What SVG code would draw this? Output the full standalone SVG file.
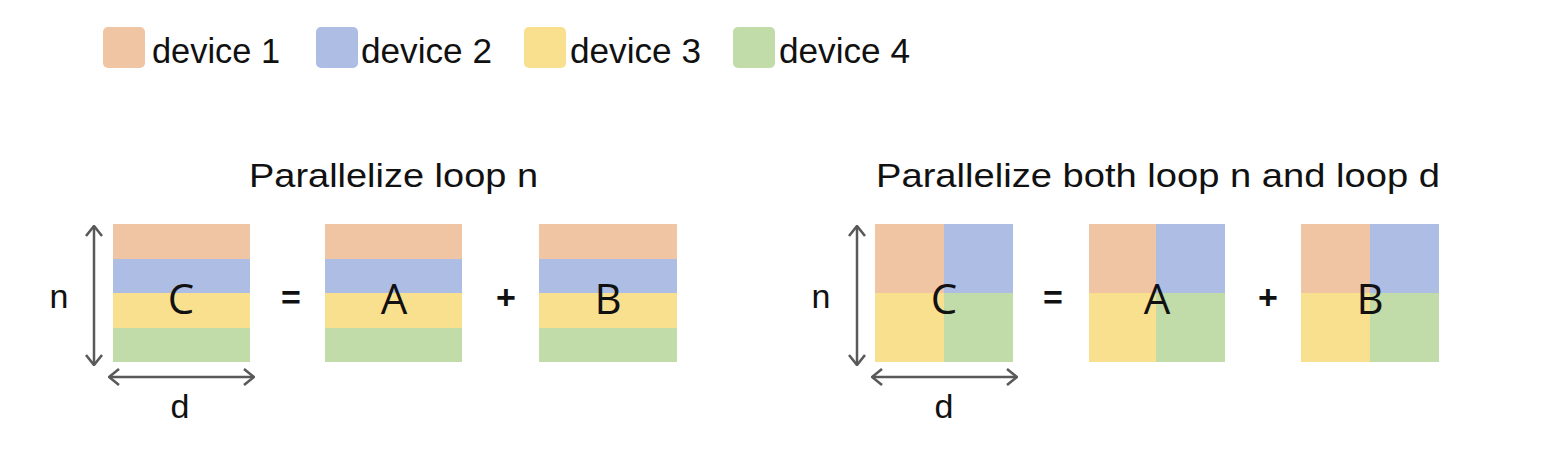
<svg xmlns="http://www.w3.org/2000/svg" width="1562" height="466" viewBox="0 0 1562 466">
<defs>
<style>
.c1{fill:#F0C5A3}.c2{fill:#ADBDE4}.c3{fill:#F9E08E}.c4{fill:#C1DCA9}
.lg{font-family:"Liberation Sans",Arial,sans-serif;font-size:35px;fill:#111}
.tt{font-family:"Liberation Sans",Arial,sans-serif;font-size:33px;fill:#111}
.ax{font-family:"Liberation Sans",Arial,sans-serif;font-size:34px;fill:#111;text-anchor:middle}
.mx{font-family:"Open Sans","Noto Sans",sans-serif;font-size:42px;fill:#111;text-anchor:middle}
.op{font-family:"Liberation Sans",Arial,sans-serif;font-size:34px;font-weight:bold;fill:#111;text-anchor:middle}
.ar{stroke:#595959;stroke-width:2.5;fill:none}
</style>
<marker id="ah" viewBox="0 0 12 18" refX="11" refY="9" markerWidth="12" markerHeight="18" markerUnits="userSpaceOnUse" orient="auto-start-reverse">
<path d="M1,1 L11,9 L1,17" fill="none" stroke="#595959" stroke-width="2.6"/>
</marker>
</defs>
<rect width="1562" height="466" fill="#fff"/>
<g id="legend">
<rect class="c1" x="103" y="27" width="42" height="41" rx="5"/>
<text class="lg" x="152" y="63" textLength="128" lengthAdjust="spacingAndGlyphs">device 1</text>
<rect class="c2" x="316" y="27" width="42" height="41" rx="5"/>
<text class="lg" x="361" y="63" textLength="131" lengthAdjust="spacingAndGlyphs">device 2</text>
<rect class="c3" x="524" y="27" width="42" height="41" rx="5"/>
<text class="lg" x="570" y="63" textLength="131" lengthAdjust="spacingAndGlyphs">device 3</text>
<rect class="c4" x="733" y="27" width="42" height="41" rx="5"/>
<text class="lg" x="779" y="63" textLength="131" lengthAdjust="spacingAndGlyphs">device 4</text>
</g>
<text class="tt" x="249" y="187" textLength="289" lengthAdjust="spacingAndGlyphs">Parallelize loop n</text>
<text class="tt" x="876" y="187" textLength="564" lengthAdjust="spacingAndGlyphs">Parallelize both loop n and loop d</text>
<g id="left-C">
<rect class="c1" x="113" y="224" width="137" height="35"/>
<rect class="c2" x="113" y="259" width="137" height="34"/>
<rect class="c3" x="113" y="293" width="137" height="35"/>
<rect class="c4" x="113" y="328" width="137" height="34"/>
<text class="mx" x="181" y="314">C</text>
</g>
<g id="left-A">
<rect class="c1" x="325" y="224" width="137" height="35"/>
<rect class="c2" x="325" y="259" width="137" height="34"/>
<rect class="c3" x="325" y="293" width="137" height="35"/>
<rect class="c4" x="325" y="328" width="137" height="34"/>
<text class="mx" x="394" y="314">A</text>
</g>
<g id="left-B">
<rect class="c1" x="539" y="224" width="138" height="35"/>
<rect class="c2" x="539" y="259" width="138" height="34"/>
<rect class="c3" x="539" y="293" width="138" height="35"/>
<rect class="c4" x="539" y="328" width="138" height="34"/>
<text class="mx" x="608" y="314">B</text>
</g>
<text class="op" x="291" y="309">=</text>
<text class="op" x="506" y="309">+</text>
<text class="ax" x="59" y="308">n</text>
<text class="ax" x="180" y="418">d</text>
<g id="right-C">
<rect class="c1" x="875" y="224" width="69" height="69"/>
<rect class="c2" x="944" y="224" width="69" height="69"/>
<rect class="c3" x="875" y="293" width="69" height="69"/>
<rect class="c4" x="944" y="293" width="69" height="69"/>
<text class="mx" x="944" y="314">C</text>
</g>
<g id="right-A">
<rect class="c1" x="1089" y="224" width="67" height="69"/>
<rect class="c2" x="1156" y="224" width="69" height="69"/>
<rect class="c3" x="1089" y="293" width="67" height="69"/>
<rect class="c4" x="1156" y="293" width="69" height="69"/>
<text class="mx" x="1157" y="314">A</text>
</g>
<g id="right-B">
<rect class="c1" x="1301" y="224" width="69" height="69"/>
<rect class="c2" x="1370" y="224" width="69" height="69"/>
<rect class="c3" x="1301" y="293" width="69" height="69"/>
<rect class="c4" x="1370" y="293" width="69" height="69"/>
<text class="mx" x="1370" y="314">B</text>
</g>
<text class="op" x="1053" y="309">=</text>
<text class="op" x="1268" y="309">+</text>
<text class="ax" x="821" y="308">n</text>
<text class="ax" x="944" y="418">d</text>
<g id="connectors">
<line class="ar" x1="94" y1="226" x2="94" y2="365" marker-start="url(#ah)" marker-end="url(#ah)"/>
<line class="ar" x1="109" y1="377" x2="254" y2="377" marker-start="url(#ah)" marker-end="url(#ah)"/>
<line class="ar" x1="857" y1="226" x2="857" y2="365" marker-start="url(#ah)" marker-end="url(#ah)"/>
<line class="ar" x1="872" y1="377" x2="1017" y2="377" marker-start="url(#ah)" marker-end="url(#ah)"/>
</g>
</svg>
